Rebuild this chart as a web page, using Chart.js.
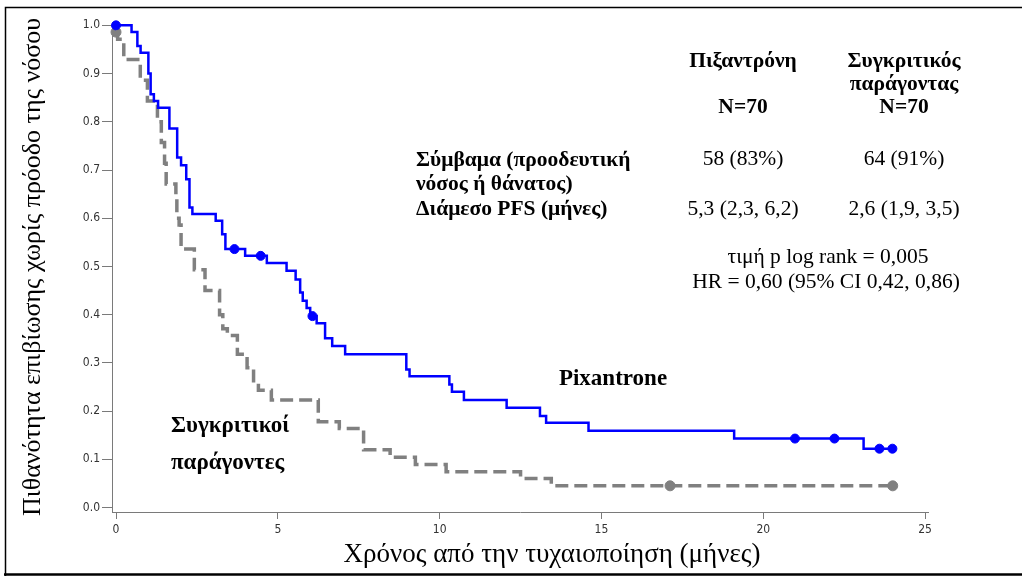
<!DOCTYPE html>
<html>
<head>
<meta charset="utf-8">
<script src="https://cdn.jsdelivr.net/npm/chart.js@4"></script>
<style>
html, body { margin: 0; padding: 0; background: #fff; }
canvas { display: block; }
</style>
</head>
<body>
<canvas id="km" width="1022" height="576"></canvas>
<script>
// Kaplan-Meier steps (time in months, survival after each drop)
const pixTimes = [0, 0.48, 0.66, 0.76, 1.0, 1.07, 1.17, 1.30, 1.65, 1.89, 2.01, 2.17, 2.27, 2.36, 3.08, 3.28, 3.38, 3.99, 4.66, 5.27, 5.55, 5.69, 5.77, 5.89, 6.0, 6.2, 6.46, 6.68, 7.08, 8.97, 9.07, 10.3, 10.38, 10.75, 12.07, 13.1, 13.29, 14.6, 19.1, 23.1, 24.0];
const pixSurv = [1.0, 0.986, 0.957, 0.943, 0.900, 0.857, 0.843, 0.829, 0.786, 0.726, 0.710, 0.681, 0.622, 0.609, 0.595, 0.567, 0.536, 0.522, 0.507, 0.491, 0.473, 0.446, 0.429, 0.414, 0.397, 0.382, 0.351, 0.335, 0.318, 0.286, 0.272, 0.255, 0.240, 0.223, 0.207, 0.190, 0.176, 0.159, 0.143, 0.122, 0.122];
const pixCensorTimes = [0, 3.66, 4.47, 6.07, 20.98, 22.2, 23.59, 23.99];
const pixCensorSurv = [1.0, 0.536, 0.522, 0.397, 0.143, 0.143, 0.122, 0.122];

const compTimes = [0, 0.05, 0.24, 0.75, 0.97, 1.28, 1.40, 1.50, 1.55, 1.85, 1.88, 1.95, 2.01, 2.42, 2.75, 3.2, 3.3, 3.44, 3.75, 4.05, 4.25, 4.4, 4.8, 6.25, 6.9, 7.65, 8.47, 9.25, 10.2, 12.5, 13.45, 24.0];
const compSurv = [0.986, 0.971, 0.929, 0.886, 0.843, 0.800, 0.757, 0.714, 0.671, 0.643, 0.600, 0.586, 0.536, 0.493, 0.450, 0.400, 0.371, 0.357, 0.318, 0.290, 0.257, 0.243, 0.223, 0.178, 0.164, 0.120, 0.104, 0.089, 0.074, 0.060, 0.045, 0.045];
const compCensorTimes = [0, 17.12, 24.0];
const compCensorSurv = [0.986, 0.045, 0.045];

const xTicks = [0, 5, 10, 15, 20, 25];
const yTicks = [0, 0.1, 0.2, 0.3, 0.4, 0.5, 0.6, 0.7, 0.8, 0.9, 1.0];

const serif = '"Liberation Serif", "Times New Roman", serif';
const narrow = '"Liberation Sans Narrow", "Arial Narrow", "DejaVu Sans Condensed", sans-serif';

const pts = (xs, ys) => xs.map((x, i) => ({ x: x, y: ys[i] }));

// text blocks drawn on top of the plot
const notes = [
    { text: 'Πιξαντρόνη', x: 743, y: 61, bold: true, size: 21.5, align: 'center' },
    { text: 'Συγκριτικός', x: 904, y: 61, bold: true, size: 21.5, align: 'center' },
    { text: 'παράγοντας', x: 904, y: 84, bold: true, size: 21.5, align: 'center' },
    { text: 'N=70', x: 743, y: 107, bold: true, size: 21.5, align: 'center' },
    { text: 'N=70', x: 904, y: 107, bold: true, size: 21.5, align: 'center' },
    { text: 'Σύμβαμα (προοδευτική', x: 416, y: 160, bold: true, size: 21.5, align: 'left' },
    { text: 'νόσος ή θάνατος)', x: 416, y: 184, bold: true, size: 21.5, align: 'left' },
    { text: 'Διάμεσο PFS (μήνες)', x: 416, y: 209, bold: true, size: 21.5, align: 'left' },
    { text: '58 (83%)', x: 743, y: 159, bold: false, size: 21.5, align: 'center' },
    { text: '64 (91%)', x: 904, y: 159, bold: false, size: 21.5, align: 'center' },
    { text: '5,3 (2,3, 6,2)', x: 743, y: 209, bold: false, size: 21.5, align: 'center' },
    { text: '2,6 (1,9, 3,5)', x: 904, y: 209, bold: false, size: 21.5, align: 'center' },
    { text: 'τιμή p log rank = 0,005', x: 828, y: 257, bold: false, size: 21.5, align: 'center' },
    { text: 'HR = 0,60 (95% CI 0,42, 0,86)', x: 826, y: 282, bold: false, size: 21.5, align: 'center' },
    { text: 'Pixantrone', x: 613, y: 379, bold: true, size: 23, align: 'center' },
    { text: 'Συγκριτικοί', x: 171, y: 426, bold: true, size: 23, align: 'left' },
    { text: 'παράγοντες', x: 171, y: 463, bold: true, size: 23, align: 'left' },
    { text: 'Χρόνος από την τυχαιοποίηση (μήνες)', x: 552, y: 555, bold: false, size: 27, align: 'center' }
];

const overlay = {
    id: 'overlay',
    afterDraw(chart) {
        const ctx = chart.ctx;
        ctx.save();
        ctx.fillStyle = '#000';
        ctx.textBaseline = 'middle';
        notes.forEach(n => {
            ctx.font = (n.bold ? 'bold ' : '') + n.size + 'px ' + serif;
            ctx.textAlign = n.align;
            ctx.fillText(n.text, n.x, n.y);
        });
        // outer frame
        ctx.strokeStyle = '#000';
        ctx.lineWidth = 1.5;
        ctx.beginPath();
        ctx.moveTo(5.5, 576);
        ctx.lineTo(5.5, 7.5);
        ctx.lineTo(1022, 7.5);
        ctx.stroke();
        ctx.lineWidth = 2.5;
        ctx.beginPath();
        ctx.moveTo(4, 574.5);
        ctx.lineTo(1022, 574.5);
        ctx.stroke();
        ctx.restore();
    }
};

const axisGrid = (len) => ({
    drawOnChartArea: false,
    drawTicks: true,
    tickLength: len,
    color: '#7a7a7a',
    lineWidth: 1
});

new Chart(document.getElementById('km'), {
    type: 'line',
    data: {
        datasets: [
            {
                label: 'Pixantrone',
                data: pts(pixTimes, pixSurv),
                borderColor: '#0000ff',
                borderWidth: 2.5,
                stepped: 'before',
                pointRadius: 0,
                fill: false
            },
            {
                label: 'Συγκριτικοί παράγοντες',
                data: pts(compTimes, compSurv),
                borderColor: '#808080',
                borderWidth: 3.5,
                borderDash: [13, 6],
                stepped: 'before',
                pointRadius: 0,
                fill: false
            },
            {
                type: 'scatter',
                label: 'censored pix',
                data: pts(pixCensorTimes, pixCensorSurv),
                backgroundColor: '#0000ff',
                borderColor: '#0000ff',
                pointRadius: 4.5,
                showLine: false,
                clip: false
            },
            {
                type: 'scatter',
                label: 'censored comp',
                data: pts(compCensorTimes, compCensorSurv),
                backgroundColor: '#808080',
                borderColor: '#808080',
                pointRadius: 5,
                showLine: false,
                clip: false
            }
        ]
    },
    options: {
        responsive: false,
        animation: false,
        devicePixelRatio: 1,
        layout: { padding: { top: 22, right: 94, bottom: 0, left: 0 } },
        plugins: {
            legend: { display: false },
            tooltip: { enabled: false }
        },
        scales: {
            x: {
                type: 'linear',
                min: -0.124,
                max: 25.09,
                afterBuildTicks: s => { s.ticks = xTicks.map(v => ({ value: v })); },
                afterFit: s => { s.height = 64; },
                grid: axisGrid(7),
                border: { display: true, color: '#7a7a7a', width: 1 },
                ticks: {
                    autoSkip: false,
                    maxRotation: 0,
                    padding: 4,
                    color: '#333',
                    font: { family: narrow, size: 12 }
                }
            },
            y: {
                type: 'linear',
                min: -0.0093,
                max: 1.007,
                afterBuildTicks: s => { s.ticks = yTicks.map(v => ({ value: v })); },
                afterFit: s => { s.width = 112; },
                grid: axisGrid(10),
                border: { display: true, color: '#7a7a7a', width: 1 },
                ticks: {
                    autoSkip: false,
                    padding: 2,
                    color: '#333',
                    font: { family: narrow, size: 12 },
                    callback: v => v.toFixed(1)
                },
                title: {
                    display: true,
                    text: 'Πιθανότητα επιβίωσης χωρίς πρόοδο της νόσου',
                    color: '#000',
                    font: { family: serif, size: 26 },
                    padding: { top: 18, bottom: 0 }
                }
            }
        }
    },
    plugins: [overlay]
});
</script>
</body>
</html>
